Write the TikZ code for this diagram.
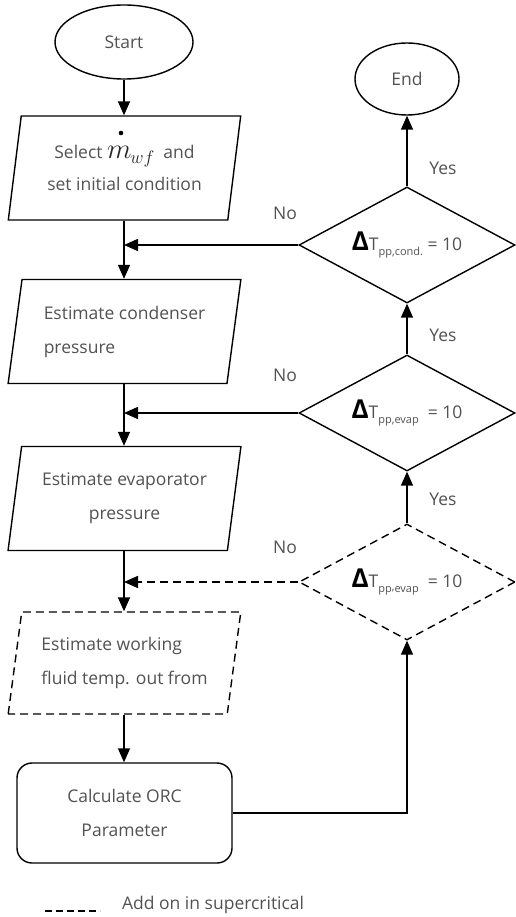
\documentclass[tikz,border=0pt]{standalone}
\usepackage{fontspec}
\setmainfont{Open Sans}
\usetikzlibrary{arrows.meta,shapes.geometric,calc}
\definecolor{txt}{gray}{0.32}
\begin{document}
\begin{tikzpicture}[x=1pt,y=-1pt,
  line width=1.4pt,
  every node/.style={font=\fontsize{17.5}{34}\selectfont, text=txt},
  arr/.style={-{Triangle[length=14pt,width=12pt]}, line width=1.6pt},
  para/.style={draw, trapezium, trapezium left angle=78, trapezium right angle=102,
    trapezium stretches=true, minimum width=233pt, minimum height=104pt, inner sep=0pt},
  term/.style={draw, ellipse, inner sep=0pt},
  dec/.style={draw, diamond, minimum width=216pt, minimum height=116pt, inner sep=0pt},
  dsh/.style={dash pattern=on 8pt off 5pt},
  lbl/.style={font=\fontsize{17.5}{17.5}\selectfont}
]
\useasboundingbox (0,0) rectangle (515,917);

% terminals
\node[term, minimum width=138pt, minimum height=74pt] (start) at (124,42) {Start};
\node[term, minimum width=104pt, minimum height=72pt] (end) at (407,79) {End};

% process parallelograms
\node[para, align=center] (p1) at (124.5,168)
  {Select {\color{black!85}\scalebox{1.65}{$m$}}\kern-1pt\raisebox{-5pt}{\color{black!85}\scalebox{1.05}{$wf$}}\ \ and\\[-2pt]set initial condition};
\fill[black] (121,133) circle (2.3pt);
\node[para, align=left] (p2) at (124.5,331.5) {Estimate condenser\\pressure};
\node[para, align=center] (p3) at (124.5,498.5) {Estimate evaporator\\pressure};
\node[para, dsh, align=left, minimum height=102pt] (p4) at (124.5,663) {Estimate working\\fluid temp. out from};
\node[draw, rounded corners=15pt, minimum width=215pt, minimum height=100pt, align=center, inner sep=0pt]
  (calc) at (124.5,813) {Calculate ORC\\Parameter};

% decisions
\node[dec] (d1) at (407,245) {};
\node[dec] (d2) at (407,413) {};
\node[dec, dsh] (d3) at (407,582) {};
\node[lbl] (t1) at (d1) {{\color{black}\fontsize{26}{26}\selectfont\bfseries Δ}T\raisebox{-5pt}{\fontsize{11}{11}\selectfont pp,cond.}\ = 10};
\node[lbl] (t2) at (d2) {{\color{black}\fontsize{26}{26}\selectfont\bfseries Δ}T\raisebox{-5pt}{\fontsize{11}{11}\selectfont pp,evap}\ \ = 10};
\node[lbl] (t3) at (d3) {{\color{black}\fontsize{26}{26}\selectfont\bfseries Δ}T\raisebox{-5pt}{\fontsize{11}{11}\selectfont pp\raisebox{2.5pt}{,}evap}\ \ = 10};

% labels
\node[lbl] (y1) at (443,168) {Yes};
\node[lbl] (y2) at (443,335) {Yes};
\node[lbl] (y3) at (443,499) {Yes};
\node[lbl] (n1) at (285,213) {No};
\node[lbl] (n2) at (285,375) {No};
\node[lbl] (n3) at (285,547) {No};

% main flow
\draw[arr] (start.south) -- (p1.north -| start.south);
\draw[arr] (p1.south -| start.south) -- (p2.north -| start.south);
\draw[arr] (p2.south -| start.south) -- (p3.north -| start.south);
\draw[arr] (p3.south -| start.south) -- (p4.north -| start.south);
\draw[arr] (p4.south -| start.south) -- (calc.north -| start.south);
\draw[arr] (calc.east) -| (d3.south);
\draw[arr] (d3.north) -- (d2.south);
\draw[arr] (d2.north) -- (d1.south);
\draw[arr] (d1.north) -- (end.south);

% No branches
\draw[arr] (d1.west) -- (d1.west -| start.south);
\draw[arr] (d2.west) -- (d2.west -| start.south);
\draw[arr, dsh] (d3.west) -- (d3.west -| start.south);

% legend
\coordinate (l1) at (45,911);
\coordinate (l2) at (100,911);
\draw[line width=1.4pt, dash pattern=on 7pt off 4pt] (l1) -- (l2);
\node[lbl, anchor=west] (leg) at (118,905) {Add on in supercritical};
\end{tikzpicture}
\end{document}
